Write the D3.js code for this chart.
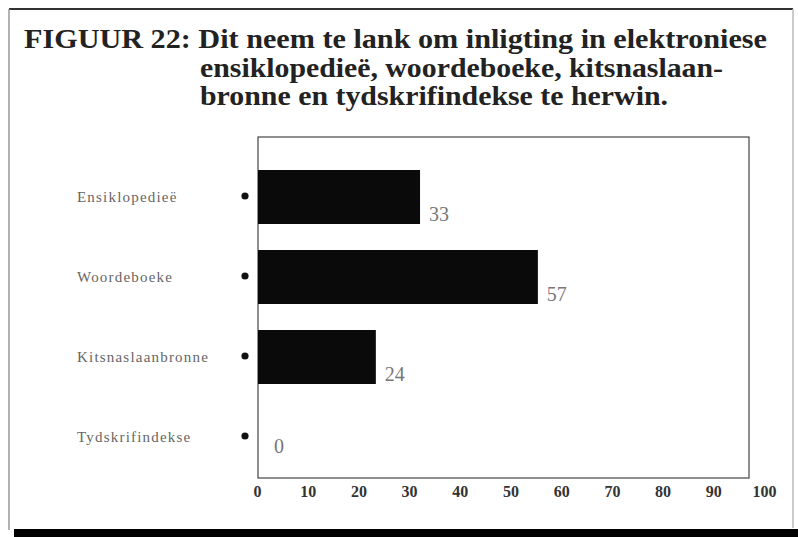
<!DOCTYPE html>
<html><head><meta charset="utf-8">
<script src="https://cdn.jsdelivr.net/npm/d3@7"></script>
<style>body{margin:0;background:#fff}svg{display:block}</style>
</head><body>
<svg id="c" width="798" height="537"></svg>
<script>
const titleLines = ["FIGUUR 22: Dit neem te lank om inligting in elektroniese",
  "ensiklopedieë, woordeboeke, kitsnaslaan-",
  "bronne en tydskrifindekse te herwin."];
const categories = ["Ensiklopedieë", "Woordeboeke", "Kitsnaslaanbronne", "Tydskrifindekse"];
const values = [33, 57, 24, 0];
const tickValues = [0, 10, 20, 30, 40, 50, 60, 70, 80, 90, 100];

const svg = d3.select("#c");
const serif = "'Liberation Serif', 'Times New Roman', serif";

// outer frame
svg.append("line").attr("x1", 9).attr("x2", 793).attr("y1", 9).attr("y2", 9).attr("stroke", "#333").attr("stroke-width", 2);
svg.append("line").attr("x1", 9).attr("x2", 9).attr("y1", 9).attr("y2", 530).attr("stroke", "#999").attr("stroke-width", 1.5);
svg.append("line").attr("x1", 793).attr("x2", 793).attr("y1", 9).attr("y2", 528).attr("stroke", "#bbb").attr("stroke-width", 1.5);
svg.append("rect").attr("x", 14).attr("y", 529).attr("width", 784).attr("height", 8).attr("fill", "#000");

// title
const tl = [{x: 24, y: 48, w: 743}, {x: 200, y: 77, w: 523}, {x: 200, y: 105, w: 468}];
svg.selectAll("text.title").data(titleLines).join("text")
  .attr("class", "title")
  .attr("x", (d, i) => tl[i].x).attr("y", (d, i) => tl[i].y)
  .attr("textLength", (d, i) => tl[i].w).attr("lengthAdjust", "spacingAndGlyphs")
  .attr("font-family", serif).attr("font-weight", "bold").attr("font-size", 27)
  .attr("fill", "#222").text(d => d);

// scales
const x = d3.scaleLinear().domain([0, 100]).range([258, 749]);
const xLab = d3.scaleLinear().domain([0, 100]).range([257, 764]);
const y = d3.scaleBand().domain(categories).range([170, 464]).paddingInner(0.325).paddingOuter(0);

// plot frame
svg.append("rect").attr("x", x(0)).attr("y", 137).attr("width", x(100) - x(0)).attr("height", 478 - 137)
  .attr("fill", "none").attr("stroke", "#444").attr("stroke-width", 1.2);

// bars
svg.selectAll("rect.bar").data(values).join("rect").attr("class", "bar")
  .attr("x", x(0)).attr("y", (d, i) => y(categories[i]))
  .attr("width", d => x(d) - x(0)).attr("height", y.bandwidth())
  .attr("fill", "#0a0a0a");

// value labels
svg.selectAll("text.val").data(values).join("text").attr("class", "val")
  .attr("x", d => x(d) + (d === 0 ? 16 : 9))
  .attr("y", (d, i) => y(categories[i]) + y.bandwidth() - (d === 0 ? 11 : 3))
  .attr("font-family", serif).attr("font-size", 20).attr("fill", "#777")
  .text(d => d);

// category labels and dots
svg.selectAll("text.cat").data(categories).join("text").attr("class", "cat")
  .attr("x", 77).attr("y", d => y(d) + y.bandwidth() / 2 + 5)
  .attr("font-family", serif).attr("font-size", 15).attr("letter-spacing", 1.2).attr("fill", "#666")
  .text(d => d);
svg.selectAll("circle.dot").data(categories).join("circle").attr("class", "dot")
  .attr("cx", 245).attr("cy", d => y(d) + y.bandwidth() / 2 - 1).attr("r", 3.6).attr("fill", "#111");

// x axis labels
const ax = svg.append("g").attr("transform", "translate(0,478)")
  .call(d3.axisBottom(xLab).tickValues(tickValues).tickSize(0).tickPadding(8));
ax.select(".domain").remove();
ax.selectAll("text").attr("font-family", serif).attr("font-weight", "bold").attr("font-size", 16).attr("fill", "#333");
</script>
</body></html>
